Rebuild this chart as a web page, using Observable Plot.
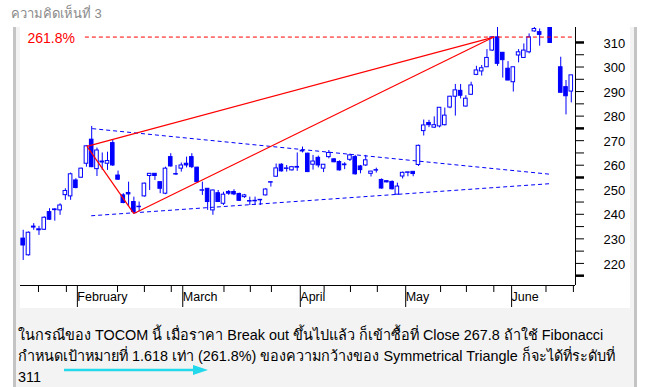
<!DOCTYPE html>
<html><head><meta charset="utf-8">
<script src="https://cdn.jsdelivr.net/npm/d3@7"></script>
<script src="https://cdn.jsdelivr.net/npm/@observablehq/plot@0.6"></script>
<style>
html,body{margin:0;padding:0;background:#fff;}
#page{position:relative;width:661px;height:387px;overflow:hidden;font-family:"Liberation Sans",Arial,sans-serif;}
#title{position:absolute;left:11px;top:3px;font-size:13px;color:#8a8a8a;}
#box{position:absolute;left:13px;top:27px;width:618px;height:360px;background:#f3f3f3;border-left:3px solid #c4c4c4;border-right:3px solid #c4c4c4;}
#panel{position:absolute;left:20px;top:27px;width:610px;height:281px;background:#fff;}
#chart{position:absolute;left:0;top:0;}
#note{position:absolute;left:18px;top:325px;font-size:14.4px;line-height:21px;color:#000;white-space:nowrap;}
#arrow{position:absolute;left:0;top:0;}
</style></head>
<body>
<div id="page">
  <div id="title">ความคิดเห็นที่ 3</div>
  <div id="box"></div>
  <div id="panel"></div>
  <div id="chart"></div>
  <div id="note">ในกรณีของ TOCOM นี้ เมื่อราคา Break out ขึ้นไปแล้ว ก็เข้าซื้อที่ Close 267.8 ถ้าใช้ Fibonacci<br>กำหนดเป้าหมายที่ 1.618 เท่า (261.8%) ของความกว้างของ Symmetrical Triangle ก็จะได้ที่ระดับที่<br>311</div>
  <svg id="arrow" width="661" height="387"><line x1="64" y1="370" x2="196" y2="370" stroke="#22d8ea" stroke-width="2.5"/><polygon points="193,365 208,370 193,375" fill="#22d8ea"/></svg>
</div>
<script>
// trading-day index of each candle
const dayIndex = [0,1,2,3,4,5,6,7,8,9,10,11,12,13,14,15,16,17,18,19,20,21,22,23,24,25,26,27,28,29,30,31,32,33,34,35,36,37,38,39,40,41,42,43,44,45,46,47,48,49,50,51,52,53,54,55,56,57,58,59,60,61,62,63,64,65,66,67,68,69,70,71,72,73,74,75,76,77,78,79,80,81,82,83,84,85,86,87,88,89,90,91,92,93,94,95,96,97,98,100,102,103,104];
const openP  = [230.1,223.3,234.6,233.5,233.7,240.9,241.7,241.6,247.8,247.3,253.8,254.9,260.6,270.4,258.4,261.1,260.6,269.0,255.8,247.7,248.7,245.0,242.9,247.3,255.6,256.5,253.1,248.4,263.3,256.2,258.6,260.6,263.3,259.0,249.6,250.4,241.6,248.6,244.3,249.1,249.1,248.3,247.0,245.2,245.3,245.7,247.7,252.9,255.3,260.2,258.5,257.9,259.0,265.6,264.7,260.2,263.0,258.6,263.3,262.4,261.3,260.0,262.2,263.3,259.5,259.9,256.5,257.8,254.0,253.5,253.2,248.0,255.4,256.9,257.3,260.1,273.9,277.2,275.3,275.8,276.3,283.5,287.9,290.3,283.9,288.7,296.8,298.2,299.9,306.7,312.1,305.8,299.3,293.8,304.7,303.7,306.0,314.5,314.2,317.5,299.9,291.8,290.0];
const highP  = [233.5,232.8,236.2,235.1,239.0,242.3,242.3,244.3,250.4,256.8,254.5,258.8,268.0,275.8,267.0,265.0,265.3,270.4,257.6,248.4,253.1,247.0,245.0,252.7,256.6,256.6,253.1,259.2,264.7,259.9,260.9,263.3,264.7,259.2,253.1,250.4,249.9,249.7,249.0,249.7,250.0,248.6,248.1,247.0,247.0,245.9,250.4,253.1,260.5,260.6,259.9,259.5,265.0,267.4,264.9,264.0,263.7,260.2,266.0,262.6,261.8,261.0,264.5,264.0,259.9,264.0,257.5,258.8,254.4,253.6,253.6,252.7,257.2,257.1,257.3,268.2,278.4,278.3,279.7,283.5,283.3,288.1,292.9,292.9,288.3,293.8,300.3,300.6,307.1,312.3,316.2,305.9,302.2,299.9,307.1,309.4,313.5,316.2,315.5,318.0,304.0,294.5,296.6];
const lowP   = [221.2,223.0,233.5,231.4,233.4,237.5,237.2,239.6,245.7,245.7,250.4,254.7,259.2,259.0,255.4,257.9,257.9,259.5,253.8,244.3,243.3,240.2,240.9,247.0,249.7,253.8,248.4,248.0,259.2,255.8,257.2,258.9,258.6,252.8,247.7,241.6,239.6,245.0,243.6,247.7,247.6,245.3,246.5,243.6,243.6,243.6,247.5,251.1,255.2,257.2,257.2,257.6,257.5,265.0,257.0,258.0,258.9,257.0,262.6,261.0,257.6,258.2,261.5,256.0,256.5,259.5,255.2,256.8,250.3,252.8,249.9,248.0,254.4,255.3,255.3,259.5,271.9,275.3,275.0,275.2,276.0,283.0,280.0,287.0,283.7,288.4,296.5,296.3,299.9,306.3,300.3,295.5,294.4,289.8,301.7,303.7,305.4,314.2,308.5,309.6,289.5,280.5,285.4];
const closeP = [227.3,232.5,235.0,233.9,238.6,237.8,242.0,243.6,249.5,256.3,250.7,258.6,267.7,259.2,266.0,261.5,261.7,259.9,254.1,244.6,248.1,240.9,243.1,252.5,256.5,255.6,250.4,258.6,259.5,256.4,259.9,259.9,259.2,253.1,249.8,245.0,249.7,245.0,248.0,248.4,248.1,245.5,247.7,245.4,245.5,245.9,250.1,253.1,258.7,257.5,258.7,259.2,259.3,265.9,257.2,261.5,259.9,260.2,265.0,261.2,257.9,260.3,264.0,256.3,258.0,262.0,257.4,258.0,250.5,253.0,250.2,251.3,256.9,257.1,256.4,267.9,276.2,276.3,276.3,283.4,280.2,287.9,290.5,288.3,287.1,292.5,298.6,299.5,303.7,312.1,301.3,302.8,294.5,299.9,306.0,306.7,312.1,315.5,313.1,309.8,289.5,288.1,296.6];

// axes
const yLabelTicks = [220,230,240,250,260,270,280,290,300,310];
const yMinorTicks = [215,220,225,230,235,240,245,250,255,260,265,270,275,280,285,290,295,300,305,310];
const yHeavyTicks = [310,275,255,215];
const monthTicks = [9.9,29.9,52.2,72.2,92.3];
const monthNames = ["February","March","April","May","June"];
const weekTicks = [2.9,8.2,17.9,23.0,28.1,38.1,43.1,47.1,57.1,62.1,67.2,79.2,84.1,89.3,99.2,104.4];

// annotations
const targetLevel = 312.2;
const targetLabel = "261.8%";
const fiboX1 = [12.1, 12.1, 21.0];
const fiboY1 = [267.7, 267.7, 240.3];
const fiboX2 = [89.3, 21.0, 89.3];
const fiboY2 = [312.2, 240.3, 312.2];
const triX1 = [13.1, 12.9];
const triY1 = [274.9, 239.4];
const triX2 = [100.1, 100.1];
const triY2 = [256.3, 252.5];

const blue = "#0000ff", red = "#ff0000";
const candles = dayIndex.map((d,k)=>({i:d,o:openP[k],h:highP[k],l:lowP[k],c:closeP[k]}));
const upC = candles.filter(d=>d.c>=d.o), downC = candles.filter(d=>d.c<d.o);
const fibo = fiboX1.map((d,k)=>({x1:d,y1:fiboY1[k],x2:fiboX2[k],y2:fiboY2[k]}));
const tri = triX1.map((d,k)=>({x1:d,y1:triY1[k],x2:triX2[k],y2:triY2[k]}));
const xDom = [-0.51, 104.8], yDom = [211, 316.1];

const chart = Plot.plot({
  width: 661, height: 312,
  marginLeft: 20, marginRight: 86, marginTop: 27, marginBottom: 27,
  x: {domain: xDom, axis: null},
  y: {domain: yDom, axis: null},
  style: {background: "transparent", fontFamily: "'Liberation Sans', Arial, sans-serif", color: "#000", overflow: "visible"},
  marks: [
    Plot.ruleX(candles, {x: "i", y1: "l", y2: "h", stroke: blue, strokeWidth: 1, clip: true}),
    Plot.rect(upC, {x1: d=>d.i-0.34, x2: d=>d.i+0.34, y1: "o", y2: "c", fill: "white", stroke: blue, strokeWidth: 1, clip: true}),
    Plot.rect(downC, {x1: d=>d.i-0.34, x2: d=>d.i+0.34, y1: "o", y2: "c", fill: blue, stroke: blue, strokeWidth: 1, clip: true}),
    Plot.link(tri, {x1: "x1", y1: "y1", x2: "x2", y2: "y2", stroke: blue, strokeWidth: 1, strokeDasharray: "4,3"}),
    Plot.link(fibo, {x1: "x1", y1: "y1", x2: "x2", y2: "y2", stroke: red, strokeWidth: 1.2}),
    Plot.ruleY([targetLevel], {x1: 11.8, x2: xDom[1], stroke: red, strokeWidth: 1, strokeDasharray: "4,3"}),
    Plot.text([targetLabel], {x: 0.8, y: targetLevel, text: d=>d, textAnchor: "start", fill: red, fontSize: 14, dy: 1}),
    Plot.ruleX([xDom[1]], {stroke: "black", strokeWidth: 1}),
    Plot.ruleY([yDom[0]], {stroke: "black", strokeWidth: 1}),
    Plot.axisY({anchor: "right", ticks: yMinorTicks, tickSize: 8, fill: "none", label: null}),
    Plot.axisY({anchor: "right", ticks: yHeavyTicks, tickSize: 8, strokeWidth: 2.5, fill: "none", label: null}),
    Plot.axisY({anchor: "right", ticks: yLabelTicks, tickSize: 0, tickPadding: 28, dy: 1, fontSize: 13, label: null, tickFormat: d=>String(d)}),
    Plot.axisX({anchor: "bottom", ticks: weekTicks, tickSize: 7, fill: "none", label: null}),
    Plot.axisX({anchor: "bottom", ticks: monthTicks, tickSize: 22, tickPadding: -15, textAnchor: "start", dx: 2, fontSize: 12.5, label: null, tickFormat: d=>monthNames[monthTicks.indexOf(d)]})
  ]
});
document.getElementById("chart").appendChild(chart);
</script>
</body></html>
